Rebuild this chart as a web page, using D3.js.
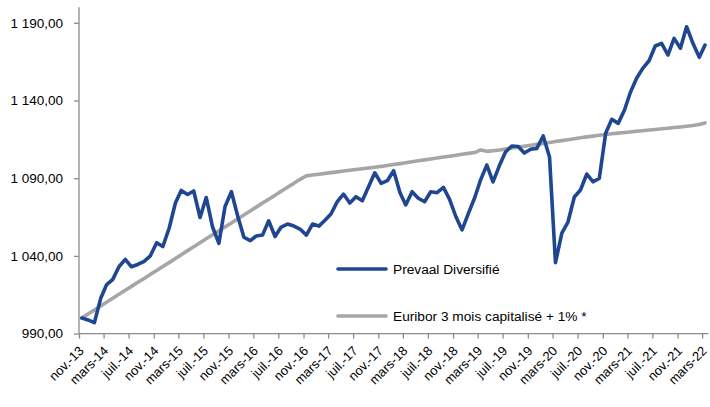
<!DOCTYPE html>
<html>
<head>
<meta charset="utf-8">
<script src="https://cdn.jsdelivr.net/npm/d3@7"></script>
<style>
  html, body { margin: 0; padding: 0; background: #fff; }
  svg { display: block; font-family: "Liberation Sans", Arial, sans-serif; }
</style>
</head>
<body>
<svg id="chart" width="710" height="407"></svg>
<script>
// ---- data (monthly, Nov 2013 .. Mar 2022) ----
const startYear = 2013, startMonth = 10; // November 2013 (0-based month)
const prevaal = [
  1000.0, 998.8, 997.0, 1012.7, 1021.3, 1024.9, 1033.0, 1037.8, 1033.0, 1034.5,
  1036.5, 1040.0, 1048.5, 1046.0, 1057.8, 1074.2, 1082.1, 1079.5, 1081.8, 1064.7,
  1077.6, 1058.6, 1048.1, 1071.8, 1081.3, 1066.0, 1052.0, 1049.8, 1052.8, 1053.4,
  1062.6, 1052.5, 1058.6, 1060.5, 1059.2, 1057.3, 1053.4, 1060.5, 1059.2, 1063.1,
  1067.0, 1074.9, 1079.8, 1074.0, 1078.1, 1075.5, 1084.7, 1093.5, 1086.7, 1088.4,
  1094.8, 1080.7, 1072.8, 1081.3, 1077.1, 1074.9, 1081.3, 1080.7, 1084.1, 1076.4,
  1065.2, 1056.7, 1067.4, 1077.6, 1088.8, 1098.5, 1087.7, 1098.0, 1106.9, 1110.7,
  1110.4, 1106.2, 1108.6, 1109.2, 1117.2, 1103.6, 1035.6, 1054.7, 1061.8, 1077.9,
  1082.4, 1092.7, 1087.7, 1089.9, 1119.0, 1127.9, 1125.3, 1133.9, 1145.0, 1154.3,
  1160.7, 1165.6, 1175.1, 1176.8, 1169.3, 1180.0, 1173.6, 1187.5, 1176.8, 1167.8,
  1175.7
];
const euribor = [
  1000.0, 1002.6, 1005.1, 1007.7, 1010.2, 1012.8, 1015.3, 1017.9, 1020.4, 1023.0,
  1025.5, 1028.1, 1030.6, 1033.2, 1035.7, 1038.3, 1040.8, 1043.4, 1045.9, 1048.5,
  1051.0, 1053.6, 1056.1, 1058.7, 1061.2, 1063.8, 1066.3, 1068.9, 1071.4, 1074.0,
  1076.5, 1079.1, 1081.6, 1084.2, 1086.7, 1089.3, 1091.5, 1092.1, 1092.6, 1093.1,
  1093.6, 1094.1, 1094.6, 1095.1, 1095.6, 1096.1, 1096.6, 1097.1, 1097.6, 1098.2,
  1098.8, 1099.4, 1100.0, 1100.6, 1101.2, 1101.8, 1102.4, 1103.0, 1103.6, 1104.2,
  1104.8, 1105.4, 1106.0, 1106.5, 1108.2, 1107.3, 1107.7, 1108.2, 1108.8, 1109.4,
  1110.0, 1110.6, 1111.2, 1111.8, 1112.4, 1113.0, 1113.6, 1114.2, 1114.8, 1115.4,
  1116.0, 1116.6, 1117.1, 1117.6, 1118.1, 1118.6, 1119.0, 1119.4, 1119.8, 1120.2,
  1120.6, 1121.0, 1121.4, 1121.8, 1122.2, 1122.6, 1123.0, 1123.4, 1123.9, 1124.6,
  1125.6
];
const xTickLabels = [
  "nov.-13","mars-14","juil.-14","nov.-14","mars-15","juil.-15","nov.-15","mars-16",
  "juil.-16","nov.-16","mars-17","juil.-17","nov.-17","mars-18","juil.-18","nov.-18",
  "mars-19","juil.-19","nov.-19","mars-20","juil.-20","nov.-20","mars-21","juil.-21",
  "nov.-21","mars-22"
];
const yTickValues = [990, 1040, 1090, 1140, 1190];
const seriesNames = ["Prevaal Diversifié", "Euribor 3 mois capitalisé + 1% *"];
const seriesColors = ["#1F4690", "#A6A6A6"];

// ---- chart ----
const svg = d3.select("#chart");
const axisColor = "#8C8C8C";
const plot = { left: 79, right: 708.5, top: 7.3, bottom: 333.6 };

const dates = prevaal.map((_, k) => new Date(startYear, startMonth + k, 15));
const x = d3.scaleTime()
  .domain([new Date(startYear, startMonth, 1), new Date(2022, 3, 1)])
  .range([plot.left, plot.right]);
const y = d3.scaleLinear().domain([990, 1200]).range([plot.bottom, plot.top]);

const fr = d3.formatLocale({ decimal: ",", thousands: "\u00a0", grouping: [3], currency: ["", "€"] });
const yFmt = fr.format(",.2f");

// Y axis
const yAxis = svg.append("g")
  .attr("transform", `translate(${plot.left},0)`)
  .call(d3.axisLeft(y).tickValues(yTickValues).tickFormat(yFmt).tickSize(5).tickPadding(11));
yAxis.select(".domain").attr("stroke", axisColor).attr("stroke-width", 1.3)
  .attr("d", `M0,${plot.top}V${plot.bottom}`);
yAxis.selectAll(".tick line").attr("stroke", axisColor).attr("stroke-width", 1.3);
yAxis.selectAll(".tick text").attr("fill", "#000").style("font-size", "13.5px")
  .style("font-family", "'Liberation Sans', Arial, sans-serif");

// X axis
const tickDates = d3.timeMonth.range(new Date(startYear, startMonth, 1), new Date(2022, 2, 2), 4);
const xAxis = svg.append("g")
  .attr("transform", `translate(0,${plot.bottom})`)
  .call(d3.axisBottom(x).tickValues(tickDates).tickFormat((d, i) => xTickLabels[i]).tickSize(5));
xAxis.select(".domain").attr("stroke", axisColor).attr("stroke-width", 1.3)
  .attr("d", `M${plot.left},0H${plot.right}`);
xAxis.selectAll(".tick line").attr("stroke", axisColor).attr("stroke-width", 1.3);
xAxis.selectAll(".tick text")
  .attr("fill", "#000")
  .style("font-size", "13px")
  .style("font-family", "'Liberation Sans', Arial, sans-serif")
  .attr("text-anchor", "end")
  .attr("dy", null)
  .attr("y", 0)
  .attr("transform", "translate(5,18) rotate(-45)");

// lines
const line = d3.line().x((d, i) => x(dates[i])).y(d => y(d));
[euribor, prevaal].forEach((s, j) => {
  svg.append("path")
    .datum(s)
    .attr("fill", "none")
    .attr("stroke", j === 0 ? seriesColors[1] : seriesColors[0])
    .attr("stroke-width", 3.6)
    .attr("stroke-linejoin", "round")
    .attr("stroke-linecap", "round")
    .attr("d", line);
});

// legend
const legend = svg.append("g");
const legendY = [269, 316];
seriesNames.forEach((name, i) => {
  legend.append("line")
    .attr("x1", 338).attr("x2", 386)
    .attr("y1", legendY[i]).attr("y2", legendY[i])
    .attr("stroke", seriesColors[i]).attr("stroke-width", 3.6)
    .attr("stroke-linecap", "round");
  legend.append("text")
    .attr("x", 393).attr("y", legendY[i] + 5)
    .style("font-size", "13.7px")
    .attr("fill", "#000")
    .text(name);
});
</script>
</body>
</html>
